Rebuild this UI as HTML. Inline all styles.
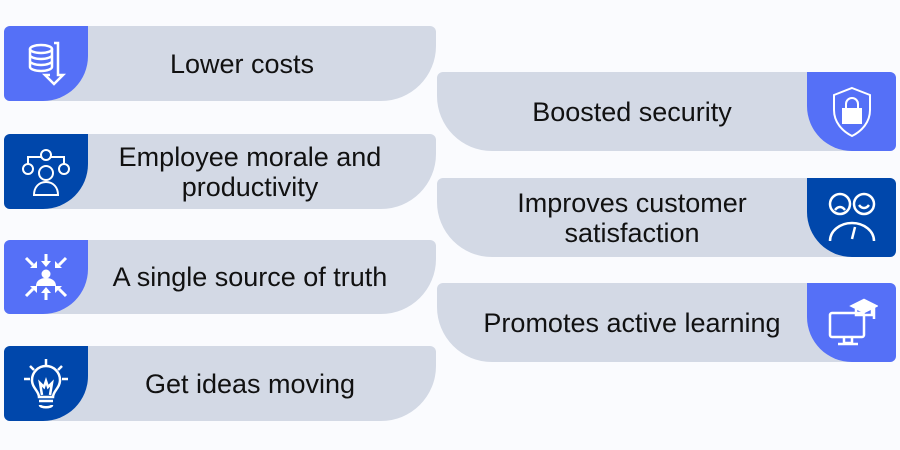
<!DOCTYPE html>
<html><head><style>
body{margin:0;width:900px;height:450px;background:#fafbfe;position:relative;overflow:hidden;font-family:"Liberation Sans",sans-serif;}
.b{position:absolute;background:#d3d9e5;overflow:hidden;}
.L{left:4px;width:432px;border-radius:6px 6px 55px 6px;}
.R{left:437px;width:459px;border-radius:6px 6px 6px 55px;}
.ic{position:absolute;top:0;bottom:0;width:84px;}
.L .ic{left:0;border-radius:0 0 45px 0;}
.R .ic{right:0;width:89px;border-radius:0 0 0 45px;}
.lb{background:#5570f7}.db{background:#0047ab}
.t{position:absolute;top:0;bottom:0;display:flex;align-items:center;justify-content:center;text-align:center;font-size:27px;line-height:30px;color:#111;white-space:nowrap;}
.L .t{left:84px;right:24px;}
.R .t{left:20px;right:89px;}
svg{position:absolute;left:50%;top:50%;transform:translate(-50%,-50%);}
</style></head><body>

<div class="b L" style="top:26px;height:75px">
 <div class="ic lb"><svg width="50" height="50" viewBox="0 0 50 50" fill="none" stroke="#fff" stroke-width="2.5"><ellipse cx="20" cy="10" rx="11" ry="4"/><path d="M9 10v18c0 2 5 4 11 4s11-2 11-4V10M9 16c0 2 5 4 11 4s11-2 11-4M9 22c0 2 5 4 11 4s11-2 11-4"/><path d="M33 4h4v32h5l-9 9-9-9h5"/></svg></div>
 <div class="t" style="right:40px">Lower costs</div></div>

<div class="b L" style="top:134px;height:75px">
 <div class="ic db"><svg width="54" height="54" viewBox="0 0 54 54" fill="none" stroke="#fff" stroke-width="2"><circle cx="27" cy="10" r="5"/><circle cx="9" cy="24" r="5"/><circle cx="45" cy="24" r="5"/><circle cx="27" cy="28" r="7"/><path d="M15 50c0-8 5-13 12-13s12 5 12 13zM9 19V12h13M45 19V12H32"/></svg></div>
 <div class="t">Employee morale and<br>productivity</div></div>

<div class="b L" style="top:240px;height:74px">
 <div class="ic lb"><svg width="50" height="50" viewBox="0 0 50 50" fill="#fff" stroke="#fff" stroke-width="3"><circle cx="25" cy="22" r="4.5" stroke="none"/><path d="M15 34c0-5 4-8 10-8s10 3 10 8z" stroke="none"/><path d="M25 2v9M25 48v-9M5 6l7 7M45 6l-7 7M5 44l7-7M45 44l-7-7" fill="none"/><path d="M20 9h10l-5 6zM20 41h10l-5-6zM9 16l7 0 0-7zM41 16l-7 0 0-7zM9 34h7v7zM41 34h-7v7z" stroke="none"/></svg></div>
 <div class="t">A single source of truth</div></div>

<div class="b L" style="top:346px;height:75px">
 <div class="ic db"><svg width="50" height="54" viewBox="0 0 50 54" fill="none" stroke="#fff" stroke-width="2.5"><path d="M25 2v6M9 9l4 4M41 9l-4 4M3 22h6M41 22h6"/><path d="M18 40c0-6-7-9-7-17a14 14 0 0 1 28 0c0 8-7 11-7 17z"/><path d="M21 38l-2-12 4 4 2-6 2 6 4-4-2 12M18 44h14M19 48c0 3 12 3 12 0"/></svg></div>
 <div class="t">Get ideas moving</div></div>

<div class="b R" style="top:72px;height:79px">
 <div class="ic lb"><svg width="46" height="52" viewBox="0 0 46 52" fill="none" stroke="#fff" stroke-width="2"><path d="M23 2l18 7v15c0 12-8 21-18 26C13 45 5 36 5 24V9z"/><rect x="14" y="23" width="18" height="14" fill="#fff"/><path d="M17 23v-5a6 6 0 0 1 12 0v5"/></svg></div>
 <div class="t">Boosted security</div></div>

<div class="b R" style="top:178px;height:79px">
 <div class="ic db"><svg width="54" height="54" viewBox="0 0 54 54" fill="none" stroke="#fff" stroke-width="2.5"><circle cx="15" cy="13" r="10"/><circle cx="39" cy="13" r="10"/><path d="M10 19c3-4 7-4 10 0M34 14c3 4 7 4 10 0"/><path d="M5 50a22 18 0 0 1 44 0M27 48l3-12"/></svg></div>
 <div class="t">Improves customer<br>satisfaction</div></div>

<div class="b R" style="top:283px;height:79px">
 <div class="ic lb"><svg width="52" height="52" viewBox="0 0 52 52" fill="none" stroke="#fff" stroke-width="2.5"><rect x="4" y="16" width="34" height="24" rx="2"/><path d="M18 40v6h8v-6M12 47h20" /><path d="M26 9l12-6 12 6-12 6z" fill="#fff"/><path d="M30 12v6h16v-6M48 10v12"/></svg></div>
 <div class="t">Promotes active learning</div></div>

</body></html>
